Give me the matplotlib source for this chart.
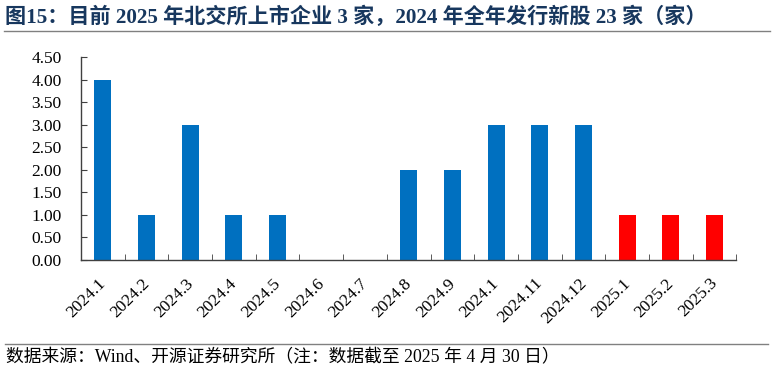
import matplotlib
matplotlib.use('Agg')
import matplotlib.pyplot as plt
import matplotlib.transforms as mtransforms
from matplotlib.lines import Line2D

plt.rcParams['font.family'] = ['Liberation Serif', 'Noto Sans CJK SC']

# Data
months = ['2024.1', '2024.2', '2024.3', '2024.4', '2024.5', '2024.6', '2024.7',
          '2024.8', '2024.9', '2024.1', '2024.11', '2024.12',
          '2025.1', '2025.2', '2025.3']
listings = [4, 1, 3, 1, 1, 0, 0, 2, 2, 3, 3, 3, 1, 1, 1]
bar_colors = ['#0070C0'] * 12 + ['#FF0000'] * 3

title = '图15：目前 2025 年北交所上市企业 3 家，2024 年全年发行新股 23 家（家）'
source = '数据来源：Wind、开源证券研究所（注：数据截至 2025 年 4 月 30 日）'

fig = plt.figure(figsize=(7.74, 3.74), dpi=100)
ax = fig.add_axes([0.1047, 0.3048, 0.8466, 0.5428])

x = range(len(months))
ax.bar(x, listings, width=0.39, color=bar_colors)

ax.set_xlim(-0.5, len(months) - 0.5)
ax.set_ylim(0, 4.5)
ax.set_yticks([i * 0.5 for i in range(10)])
ax.set_yticklabels([f'{i * 0.5:.2f}' for i in range(10)], fontsize=12.5)
ax.set_xticks(list(x))
ax.set_xticklabels(months, rotation=45, ha='right', rotation_mode='anchor', fontsize=12.5)
ax.tick_params(axis='x', length=0, pad=11)
shift = mtransforms.ScaledTranslation(-0.05, 0, fig.dpi_scale_trans)
for lbl in ax.get_xticklabels():
    lbl.set_transform(lbl.get_transform() + shift)
ax.set_xticks([i - 0.5 for i in range(len(months) + 1)], minor=True)
ax.tick_params(axis='x', which='minor', direction='in', length=4, color='#404040')
ax.tick_params(axis='y', direction='in', length=4, color='#404040', pad=14)

for side in ['top', 'right']:
    ax.spines[side].set_visible(False)
for side in ['left', 'bottom']:
    ax.spines[side].set_color('#404040')
    ax.spines[side].set_linewidth(1.0)

fig.text(0.006, 0.955, title, fontsize=15.2, fontweight='bold', color='#17375E',
         va='center', ha='left')
fig.add_artist(Line2D([0.005, 0.995], [0.917, 0.917], color='#808080', lw=1.0))
fig.add_artist(Line2D([0.006, 0.992], [0.080, 0.080], color='#808080', lw=1.0))
fig.text(0.008, 0.043, source, fontsize=12.8, va='center', ha='left')

fig.savefig('out.png', dpi=100)
